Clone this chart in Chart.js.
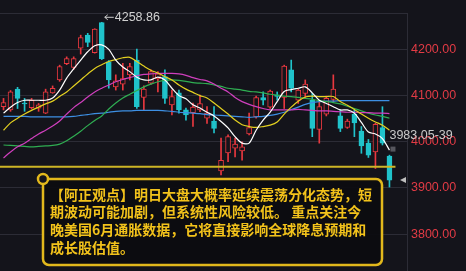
<!DOCTYPE html>
<html>
<head>
<meta charset="utf-8">
<script src="https://cdn.jsdelivr.net/npm/chart.js@4.4.0/dist/chart.umd.min.js"></script>
<style>
  html, body { margin: 0; padding: 0; background: #14141b; }
  #wrap { width: 466px; height: 271px; position: relative; }
</style>
</head>
<body>
<div id="wrap"><canvas id="myChart"></canvas></div>
<script>
// daily candles
var opens  = [4076,4069,4114,4084,4074,4073,4062,4106,4134,4169, 4161,4203,4231,4193,4258,4173,4119,4125,4145,4177,
              4096,4127,4136,4141,4080,4106,4069,4063,4069,4051, 4045,3937,3976,3986,3980,4017,4054,4096,4075,4101,
              4096,4156,4090,4105,4090,4027,4060,4092,4056,4031, 4060,4023,3997,3978,4031,3969];
var highs  = [4094,4111,4118,4094,4094,4083,4114,4121,4166,4184, 4184,4231,4235,4245,4258.86,4176,4145,4170,4170,4201,
              4121,4156,4152,4156,4112,4112,4073,4084,4101,4076, 4076,4008,4015,4008,4000,4062,4099,4108,4112,4108,
              4166,4177,4114,4134,4105,4087,4099,4145,4069,4049, 4069,4033,4005,4040,4076,3971];
var lows   = [4069,4066,4072,4066,4071,4066,4061,4105,4131,4167, 4157,4190,4206,4192,4178,4116,4112,4112,4134,4072,
              4069,4124,4108,4083,4058,4062,4047,4033,4065,4040, 4019,3928,3957,3967,3960,4015,4051,4080,4072,4090,
              4072,4108,4083,4094,4011,3997,4056,4087,4022,4029, 4011,3975,3966,3942,3993,3902];
var closes = [4085,4108,4094,4082,4090,4080,4108,4116,4163,4180, 4180,4226,4215,4244,4180,4134,4132,4137,4163,4076,
              4114,4152,4147,4094,4098,4069,4058,4075,4083,4062, 4029,3960,4011,3995,3989,4031,4096,4090,4110,4098,
              4164,4116,4112,4125,4029,4076,4094,4114,4029,4045, 4041,3991,3971,4038,3997,3917];

// moving averages as drawn
var ma5   = [4062,4075,4085,4090,4090,4090,4090,4095,4112,4138, 4158,4177,4195,4208,4210,4200,4177,4162,4152,4140,
             4134,4134,4140,4134,4116,4100,4093,4080,4073,4064, 4056,4044,4030,4011,3997,3997,4025,4047,4064,4087,
             4109,4113,4116,4119,4106,4090,4083,4076,4069,4069, 4062,4042,4021,4017,4007,3982];
var ma10  = [4025,4041,4051,4060,4068,4075,4082,4088,4098,4108, 4121,4134,4147,4159,4167,4174,4178,4182,4183,4174,
             4164,4155,4149,4141,4134,4123,4114,4107,4100,4095, 4084,4072,4060,4047,4037,4033,4031,4033,4036,4043,
             4060,4075,4088,4097,4099,4098,4098,4098,4087,4079, 4070,4060,4051,4043,4036,4025];
var ma20  = [3965,3978,3989,3997,4007,4017,4025,4034,4045,4060, 4074,4085,4097,4108,4116,4123,4130,4135,4139,4143,
             4146,4147,4148,4148,4148,4147,4144,4139,4135,4132, 4125,4116,4108,4096,4087,4081,4076,4072,4069,4069,
             4069,4069,4070,4069,4068,4067,4067,4066,4065,4064, 4064,4063,4063,4062,4062,4061];
var ma60  = [3993,3992,3991,3990,3989,3990,3991,3992,3995,4002, 4012,4023,4035,4046,4056,4071,4084,4095,4103,4111,
             4119,4125,4130,4133,4134,4133,4131,4128,4127,4126, 4123,4120,4116,4114,4112,4109,4108,4106,4103,4101,
             4099,4098,4096,4094,4092,4089,4087,4085,4082,4077, 4072,4067,4062,4058,4055,4051];
var ma120 = [4055,4055,4055,4055,4054,4054,4054,4054,4054,4054, 4055,4057,4059,4061,4062,4064,4066,4067,4067,4068,
             4068,4068,4068,4067,4066,4064,4063,4062,4061,4059, 4058,4057,4056,4055,4054,4053,4054,4055,4057,4060,
             4064,4070,4075,4081,4085,4087,4088,4088,4089,4089, 4089,4089,4089,4089,4089,4089];

var yTicks = [3800, 3900, 4000, 4100, 4200];
var supportLevel = 3946;
var cursorPrice = 3983.05;
var cursorLabel = '3983.05-39';
var noteLines = [
  '【阿正观点】明日大盘大概率延续震荡分化态势，短',
  '期波动可能加剧，但系统性风险较低。 重点关注今',
  '晚美国6月通胀数据，它将直接影响全球降息预期和',
  '成长股估值。'
];

var bg = '#14141b';
var gridColor = '#2c2c36';
var upColor = '#e8383f';
var downColor = '#20c3cb';
var gold = '#e2b81c';

var days = closes.map(function (c, i) { return 'D' + (i + 1); }).concat(['', '']);
var bodies = opens.map(function (o, i) { return [o, closes[i]]; });
var wicks = lows.map(function (l, i) { return [l, highs[i]]; });
var candleColors = closes.map(function (c, i) { return c >= opens[i] ? upColor : downColor; });
var bodyFill = closes.map(function (c, i) { return c >= opens[i] ? bg : downColor; });

var overlay = {
  id: 'overlay',
  beforeDraw: function (chart) {
    var ctx = chart.ctx;
    ctx.save();
    ctx.fillStyle = bg;
    ctx.fillRect(0, 0, chart.width, chart.height);
    ctx.restore();
  },
  afterDatasetsDraw: function (chart) {
    var ctx = chart.ctx, a = chart.chartArea, xs = chart.scales.x, ys = chart.scales.y;
    var last = closes.length - 1;
    var lx = xs.getPixelForValue(last);
    ctx.save();

    // top border of the plot
    ctx.strokeStyle = gridColor;
    ctx.lineWidth = 1;
    ctx.beginPath();
    ctx.moveTo(a.left, a.top + 0.5);
    ctx.lineTo(a.right, a.top + 0.5);
    ctx.stroke();

    // support line
    var sy = ys.getPixelForValue(supportLevel);
    ctx.strokeStyle = '#cdb526';
    ctx.lineWidth = 2;
    ctx.beginPath();
    ctx.moveTo(a.left, sy);
    ctx.lineTo(lx + 6, sy);
    ctx.stroke();

    // max marker
    var hiVal = Math.max.apply(null, highs);
    var hiIdx = highs.indexOf(hiVal);
    var hx = xs.getPixelForValue(hiIdx) + 3;
    var hy = ys.getPixelForValue(hiVal) - 5;
    ctx.strokeStyle = '#cfcfcf';
    ctx.lineWidth = 1;
    ctx.beginPath();
    ctx.moveTo(hx, hy); ctx.lineTo(hx + 9, hy);
    ctx.moveTo(hx, hy); ctx.lineTo(hx + 3, hy - 2.5);
    ctx.moveTo(hx, hy); ctx.lineTo(hx + 3, hy + 2.5);
    ctx.stroke();
    ctx.fillStyle = '#d0d0d0';
    ctx.font = '12.5px "Liberation Sans", Arial, sans-serif';
    ctx.textBaseline = 'middle';
    ctx.textAlign = 'left';
    ctx.fillText(hiVal.toFixed(2), hx + 10, hy);

    // cursor price marker and label
    var cy = ys.getPixelForValue(cursorPrice);
    ctx.fillStyle = 'rgba(140,140,150,0.55)';
    ctx.fillRect(lx + 1, cy - 3, 5, 5);
    ctx.fillStyle = '#c8c8c8';
    ctx.font = '12.5px "Liberation Sans", Arial, sans-serif';
    ctx.fillText(cursorLabel, lx, cy - 14);

    // last price arrow
    var py = ys.getPixelForValue(closes[last]);
    ctx.fillStyle = '#bdbdbd';
    ctx.beginPath();
    ctx.moveTo(a.right - 7, py);
    ctx.lineTo(a.right - 1, py - 3);
    ctx.lineTo(a.right - 1, py + 3);
    ctx.closePath();
    ctx.fill();

    // comment box
    var bx = 43, by = 179, bw = 339, bh = 86, r = 6;
    ctx.beginPath();
    ctx.moveTo(bx + r, by);
    ctx.lineTo(bx + bw - r, by);
    ctx.arcTo(bx + bw, by, bx + bw, by + r, r);
    ctx.lineTo(bx + bw, by + bh - r);
    ctx.arcTo(bx + bw, by + bh, bx + bw - r, by + bh, r);
    ctx.lineTo(bx + r, by + bh);
    ctx.arcTo(bx, by + bh, bx, by + bh - r, r);
    ctx.lineTo(bx, by + r);
    ctx.arcTo(bx, by, bx + r, by, r);
    ctx.closePath();
    ctx.fillStyle = 'rgba(12,12,16,0.94)';
    ctx.fill();
    ctx.strokeStyle = gold;
    ctx.lineWidth = 2.5;
    ctx.stroke();

    ctx.beginPath();
    ctx.arc(bx, by, 5, 0, Math.PI * 2);
    ctx.fillStyle = bg;
    ctx.fill();
    ctx.stroke();

    ctx.fillStyle = '#f2c21b';
    ctx.font = 'bold 14px "Noto Sans CJK SC", sans-serif';
    ctx.textBaseline = 'middle';
    noteLines.forEach(function (t, k) {
      ctx.fillText(t, 50, 194.5 + k * 17.6);
    });
    ctx.restore();
  }
};

var contx = document.getElementById('myChart').getContext('2d');
var myChart = new Chart(contx, {
  type: 'bar',
  data: {
    labels: days,
    datasets: [
      { type: 'line', data: ma5,   borderColor: '#ffffff', borderWidth: 1.2, pointRadius: 0, tension: 0.3, order: 0 },
      { type: 'line', data: ma10,  borderColor: '#e3d020', borderWidth: 1.2, pointRadius: 0, tension: 0.3, order: 0 },
      { type: 'line', data: ma20,  borderColor: '#cf3fbd', borderWidth: 1.2, pointRadius: 0, tension: 0.3, order: 0 },
      { type: 'line', data: ma60,  borderColor: '#2fae52', borderWidth: 1.2, pointRadius: 0, tension: 0.3, order: 0 },
      { type: 'line', data: ma120, borderColor: '#3d8fe3', borderWidth: 1.2, pointRadius: 0, tension: 0.3, order: 0 },
      { type: 'bar', data: bodies, backgroundColor: bodyFill, borderColor: candleColors, borderWidth: 1,
        borderSkipped: false, barThickness: 5, grouped: false, order: 1 },
      { type: 'bar', data: wicks, backgroundColor: candleColors, borderWidth: 0,
        barThickness: 1, grouped: false, order: 2 }
    ]
  },
  options: {
    responsive: true,
    maintainAspectRatio: false,
    animation: false,
    layout: { autoPadding: false, padding: { top: 13, left: 0, right: 0, bottom: 0 } },
    plugins: { legend: { display: false }, tooltip: { enabled: false } },
    scales: {
      x: { display: false },
      y: {
        position: 'right',
        min: 3720,
        max: 4279,
        afterBuildTicks: function (s) { s.ticks = yTicks.map(function (v) { return { value: v }; }); },
        afterFit: function (s) { s.width = 59; s.paddingTop = 0; s.paddingBottom = 0; },
        grid: { color: gridColor, drawTicks: false },
        border: { display: true, color: gridColor },
        ticks: {
          padding: 4,
          color: '#e23b45',
          font: { size: 12.5, family: '"Liberation Sans", Arial, sans-serif' },
          callback: function (v) { return Number(v).toFixed(2); }
        }
      }
    }
  },
  plugins: [overlay]
});
</script>
</body>
</html>
